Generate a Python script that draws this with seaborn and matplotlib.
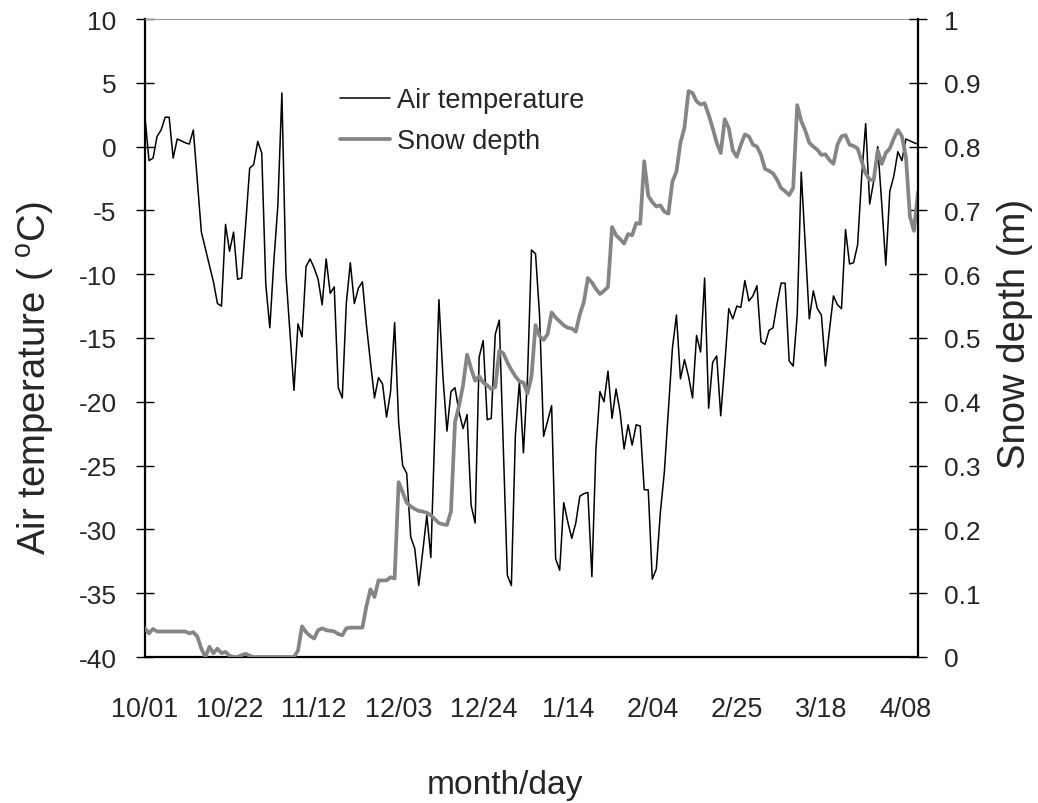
import numpy as np
import matplotlib
matplotlib.use("Agg")
import matplotlib.pyplot as plt
import seaborn as sns
from matplotlib import font_manager, ticker

# Daily series starting on 1 October (day 0) through 11 April (day 192)
air_temp = [
    2.3, -1.1, -0.9, 0.8, 1.3, 2.3, 2.3, -0.9, 0.6, 0.45,
    0.3, 0.2, 1.3, -2.7, -6.7, -8.0, -9.3, -10.6, -12.3, -12.5,
    -6.1, -8.2, -6.7, -10.4, -10.3, -6.1, -1.7, -1.4, 0.4, -0.5,
    -10.8, -14.2, -9.0, -4.6, 4.2, -10.0, -14.5, -19.1, -13.9, -14.9,
    -9.4, -8.8, -9.5, -10.4, -12.4, -8.8, -11.5, -11.0, -18.9, -19.7,
    -12.3, -9.1, -12.3, -11.1, -10.6, -14.0, -16.9, -19.7, -18.1, -18.6,
    -21.2, -19.2, -13.8, -21.6, -25.0, -25.6, -30.6, -31.5, -34.4, -31.7,
    -28.9, -32.2, -22.0, -12.0, -18.0, -22.3, -19.2, -18.9, -20.8, -22.1,
    -21.0, -28.1, -29.5, -16.5, -15.2, -21.4, -21.3, -14.7, -13.6, -23.6,
    -33.6, -34.4, -22.6, -18.4, -24.0, -18.1, -8.1, -8.4, -13.2, -22.7,
    -21.5, -20.3, -32.3, -33.2, -27.9, -29.4, -30.7, -29.5, -27.4, -27.2,
    -27.1, -33.7, -23.7, -19.2, -20.0, -17.6, -21.3, -19.0, -20.8, -23.7,
    -21.8, -23.4, -21.8, -21.9, -26.9, -26.9, -33.9, -33.1, -28.7, -25.5,
    -20.6, -15.8, -13.2, -18.2, -16.7, -18.0, -19.7, -14.8, -16.1, -10.3,
    -20.5, -16.9, -16.4, -21.1, -17.1, -12.7, -13.5, -12.5, -12.6, -10.5,
    -12.1, -11.7, -10.9, -15.3, -15.5, -14.4, -14.2, -12.3, -10.7, -10.7,
    -16.8, -17.2, -13.2, -2.0, -7.8, -13.5, -11.3, -12.7, -13.2, -17.2,
    -14.4, -11.7, -12.4, -12.7, -6.5, -9.2, -9.1, -7.7, -2.4, 1.8,
    -4.5, -2.7, 0.0, -4.5, -9.3, -3.5, -2.3, -0.4, -1.1, 0.6,
    0.45, 0.3, 0.2,
]

snow_depth = [
    0.045, 0.037, 0.044, 0.040, 0.040, 0.040, 0.040, 0.040, 0.040, 0.040,
    0.040, 0.037, 0.039, 0.032, 0.013, 0.000, 0.016, 0.006, 0.013, 0.006,
    0.008, 0.002, 0.000, 0.000, 0.003, 0.005, 0.002, 0.000, 0.000, 0.000,
    0.000, 0.000, 0.000, 0.000, 0.000, 0.000, 0.000, 0.000, 0.010, 0.048,
    0.039, 0.033, 0.029, 0.042, 0.045, 0.042, 0.041, 0.040, 0.036, 0.034,
    0.045, 0.046, 0.046, 0.046, 0.046, 0.080, 0.106, 0.094, 0.120, 0.120,
    0.120, 0.125, 0.123, 0.274, 0.258, 0.242, 0.236, 0.232, 0.229, 0.228,
    0.226, 0.222, 0.216, 0.210, 0.208, 0.207, 0.228, 0.368, 0.394, 0.426,
    0.474, 0.452, 0.433, 0.440, 0.430, 0.426, 0.420, 0.423, 0.480, 0.476,
    0.462, 0.450, 0.440, 0.432, 0.430, 0.413, 0.440, 0.520, 0.503, 0.497,
    0.506, 0.540, 0.532, 0.526, 0.520, 0.516, 0.515, 0.510, 0.537, 0.556,
    0.594, 0.587, 0.577, 0.569, 0.574, 0.580, 0.674, 0.661, 0.655, 0.648,
    0.663, 0.661, 0.680, 0.679, 0.777, 0.723, 0.713, 0.706, 0.708, 0.698,
    0.695, 0.745, 0.761, 0.806, 0.830, 0.887, 0.884, 0.871, 0.866, 0.868,
    0.850, 0.829, 0.806, 0.790, 0.843, 0.829, 0.794, 0.784, 0.803, 0.819,
    0.816, 0.803, 0.800, 0.787, 0.765, 0.762, 0.758, 0.748, 0.735, 0.730,
    0.724, 0.735, 0.865, 0.840, 0.825, 0.806, 0.800, 0.795, 0.787, 0.788,
    0.779, 0.773, 0.803, 0.816, 0.818, 0.803, 0.801, 0.797, 0.777, 0.758,
    0.748, 0.748, 0.794, 0.773, 0.790, 0.797, 0.813, 0.826, 0.816, 0.784,
    0.690, 0.668, 0.729,
]

date_labels = ["10/01", "10/22", "11/12", "12/03", "12/24",
               "1/14", "2/04", "2/25", "3/18", "4/08"]

days = np.arange(len(air_temp))

sns.set_style("white")
plt.rcParams["font.family"] = ["Liberation Sans", "DejaVu Sans"]
plt.rcParams["mathtext.fontset"] = "custom"
plt.rcParams["mathtext.rm"] = "Liberation Sans"
plt.rcParams["axes.unicode_minus"] = False


def pick_font(name, fallback):
    try:
        font_manager.findfont(name, fallback_to_default=False)
        return name
    except Exception:
        return fallback


narrow = pick_font("Liberation Sans Narrow", "Liberation Sans")
narrow_scale = 1.0 if narrow == "Liberation Sans Narrow" else 0.86

fig = plt.figure(figsize=(10.38, 8.04), dpi=100)
ax = fig.add_axes([145 / 1038, 1 - 658 / 804, 773 / 1038, 638 / 804])
ax2 = ax.twinx()

sns.lineplot(x=days, y=air_temp, ax=ax, color="black", linewidth=1.1,
             legend=False)
sns.lineplot(x=days, y=snow_depth, ax=ax2, color="#858585", linewidth=2.7,
             legend=False)
temp_line = ax.get_lines()[0]
snow_line = ax2.get_lines()[0]

ax.set_xlim(0, 192)
ax.set_ylim(-40, 10)
ax2.set_ylim(0, 1)

# x axis: weekly ticks, labels every third week
ax.set_xticks(np.arange(0, 190, 21))
ax.set_xticklabels(date_labels, fontfamily=narrow, fontsize=22.5 * narrow_scale)
ax.set_xticks(np.arange(0, 193, 7), minor=True)
ax.tick_params(axis="x", which="both", direction="inout", length=14,
               width=1, color="black", pad=21)

ax.yaxis.set_major_locator(ticker.MultipleLocator(5))
ax.tick_params(axis="y", direction="inout", length=13, width=1,
               labelsize=19, pad=14, color="black")
ax2.yaxis.set_major_locator(ticker.MultipleLocator(0.1))
ax2.yaxis.set_major_formatter(ticker.FuncFormatter(lambda v, p: f"{v:g}"))
ax2.tick_params(axis="y", direction="inout", length=13, width=1,
                labelsize=19, pad=12, color="black")

for side in ["left", "bottom"]:
    ax.spines[side].set_color("black")
    ax.spines[side].set_linewidth(1.6)
ax.spines["right"].set_visible(False)
ax.spines["top"].set_color("#9a9a9a")
ax.spines["top"].set_linewidth(0.8)
for side in ["left", "bottom", "top"]:
    ax2.spines[side].set_visible(False)
ax2.spines["right"].set_color("black")
ax2.spines["right"].set_linewidth(1.6)

ax.set_xlabel("month/day", fontfamily=narrow, fontsize=28 * narrow_scale,
              va="center")
ax.xaxis.set_label_coords(0.466, -0.2)
ax.set_ylabel(r"Air temperature ( $^{\mathrm{o}}$C)", fontsize=27.5,
              va="center")
ax.yaxis.set_label_coords(-0.141, 0.439)
ax2.set_ylabel("Snow depth (m)", fontsize=27.5, va="center")
ax2.yaxis.set_label_coords(1.125, 0.508)

ax2.legend([temp_line, snow_line], ["Air temperature", "Snow depth"],
           loc="upper left", bbox_to_anchor=(0.252, 0.893), frameon=False,
           fontsize=19.5, handlelength=1.85, handletextpad=0.25,
           labelspacing=0.55, borderpad=0, borderaxespad=0)

fig.savefig("out.png", dpi=100)
